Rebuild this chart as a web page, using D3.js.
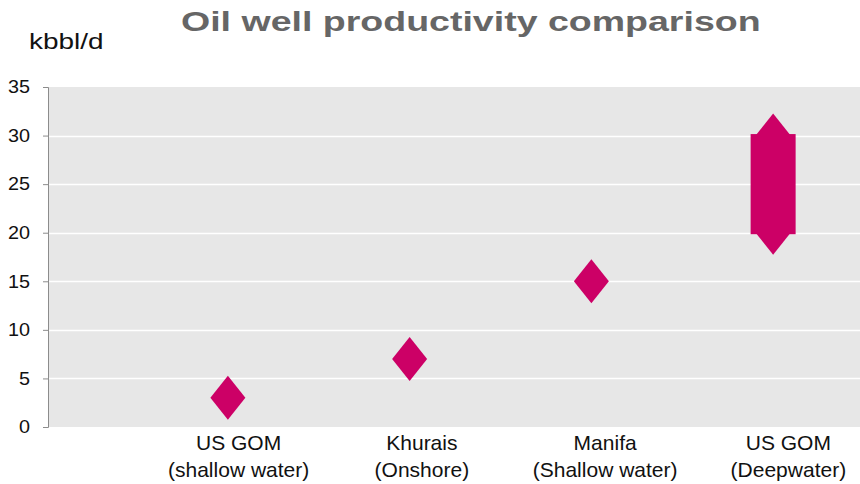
<!DOCTYPE html>
<html>
<head>
<meta charset="utf-8">
<script src="https://cdn.jsdelivr.net/npm/d3@7.9.0/dist/d3.min.js"></script>
<style>
  body { margin: 0; background: #fff; }
  svg { display: block; font-family: "Liberation Sans", Arial, sans-serif; }
</style>
</head>
<body>
<svg id="chart" width="860" height="484"></svg>
<script>
// categories (two-line labels) and productivity ranges, kbbl/d
const categories = ['US GOM shallow', 'Khurais', 'Manifa', 'US GOM deep'];
const labelLines = [
  ['US GOM', '(shallow water)'],
  ['Khurais', '(Onshore)'],
  ['Manifa', '(Shallow water)'],
  ['US GOM', '(Deepwater)']
];
const lowValues  = [3, 7, 15, 20];
const highValues = [3, 7, 15, 30];
const yTicks = [0, 5, 10, 15, 20, 25, 30, 35];

const svg = d3.select('#chart');
const plot = { left: 48, right: 860, top: 87, bottom: 427 };
const markColor = '#cc0066';

const x = d3.scaleBand()
  .domain(categories)
  .range([137, 864]);

// category labels sit a little right of the marks
const xLabel = d3.scaleBand()
  .domain(categories)
  .range([147, 880]);

const y = d3.scaleLinear()
  .domain([0, 35])
  .range([plot.bottom, plot.top]);

// stretch a text node horizontally by a factor
function widen(sel, k) {
  sel.each(function () {
    const w = this.getComputedTextLength();
    d3.select(this).attr('textLength', w * k).attr('lengthAdjust', 'spacingAndGlyphs');
  });
}

// title + unit
svg.append('text')
  .attr('x', 181).attr('y', 31)
  .attr('font-size', 28).attr('font-weight', 'bold')
  .attr('fill', '#666')
  .text('Oil well productivity comparison')
  .call(widen, 1.34);

svg.append('text')
  .attr('x', 29).attr('y', 49)
  .attr('font-size', 22)
  .attr('fill', '#111')
  .text('kbbl/d')
  .call(widen, 1.27);

// plot background
svg.append('rect')
  .attr('x', plot.left).attr('y', plot.top)
  .attr('width', plot.right - plot.left)
  .attr('height', plot.bottom - plot.top)
  .attr('fill', '#e7e7e7');

// gridlines
svg.append('g')
  .selectAll('line')
  .data(yTicks.filter(d => d > 0 && d < 35))
  .join('line')
  .attr('x1', plot.left).attr('x2', plot.right)
  .attr('y1', d => Math.round(y(d)) + 0.5)
  .attr('y2', d => Math.round(y(d)) + 0.5)
  .attr('stroke', '#fff')
  .attr('stroke-width', 1.5);

// y axis
const yAxis = svg.append('g')
  .attr('transform', `translate(${plot.left},0)`)
  .call(d3.axisLeft(y).tickValues(yTicks).tickSize(5).tickPadding(13));
yAxis.select('.domain').attr('stroke', '#8c8c8c');
yAxis.selectAll('.tick line').attr('stroke', '#8c8c8c');
yAxis.selectAll('.tick text')
  .attr('font-size', 18)
  .attr('font-family', '"Liberation Sans", Arial, sans-serif')
  .attr('fill', '#111')
  .call(widen, 1.1);

// x labels
const xLab = svg.append('g')
  .selectAll('text')
  .data(categories)
  .join('text')
  .attr('x', d => xLabel(d) + xLabel.bandwidth() / 2)
  .attr('text-anchor', 'middle')
  .attr('font-size', 21)
  .attr('fill', '#111');
xLab.selectAll('tspan')
  .data((d, i) => labelLines[i])
  .join('tspan')
  .attr('x', function () { return this.parentNode.getAttribute('x'); })
  .attr('y', (d, i) => 450 + i * 27)
  .text(d => d);

// range bars (only where low != high)
const hw = 17.5, hh = 22, barW = 45;
const rows = categories.map((c, i) => ({ c, lo: lowValues[i], hi: highValues[i] }));

svg.append('g')
  .selectAll('rect')
  .data(rows.filter(d => d.hi > d.lo))
  .join('rect')
  .attr('x', d => x(d.c) + x.bandwidth() / 2 - barW / 2)
  .attr('y', d => y(d.hi) - 1.5)
  .attr('width', barW)
  .attr('height', d => y(d.lo) - y(d.hi) + 3)
  .attr('fill', markColor);

// diamond markers at each end
const ends = rows.flatMap(d => d.hi > d.lo ? [{ c: d.c, v: d.hi }, { c: d.c, v: d.lo }] : [{ c: d.c, v: d.lo }]);
svg.append('g')
  .selectAll('path')
  .data(ends)
  .join('path')
  .attr('d', d => {
    const cx = x(d.c) + x.bandwidth() / 2, cy = y(d.v);
    return `M${cx},${cy - hh}L${cx + hw},${cy}L${cx},${cy + hh}L${cx - hw},${cy}Z`;
  })
  .attr('fill', markColor);
</script>
</body>
</html>
